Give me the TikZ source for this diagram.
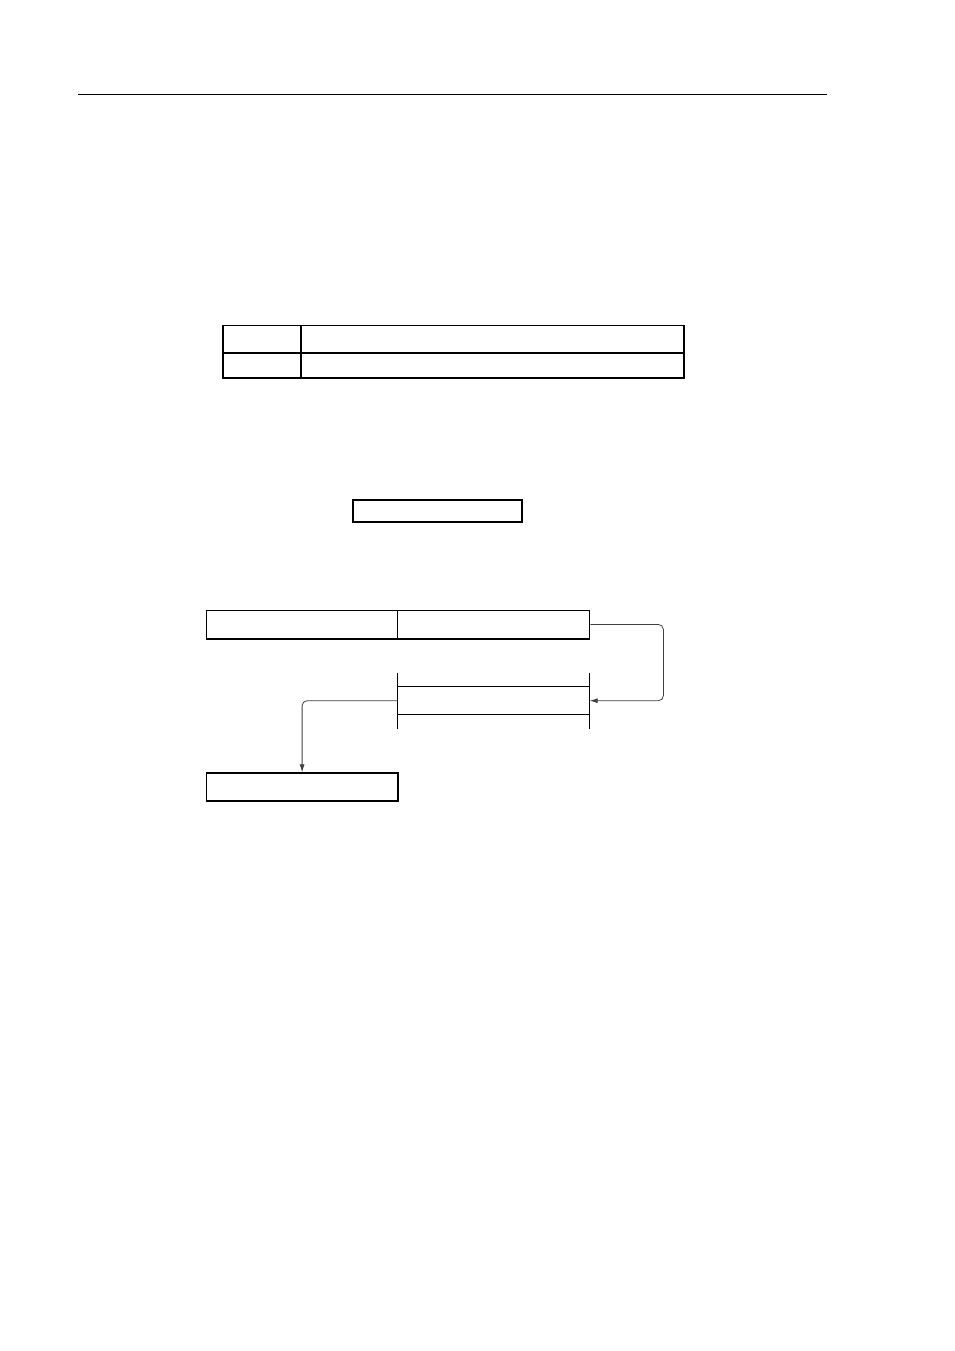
\documentclass[tikz,border=0pt]{standalone}
\usetikzlibrary{arrows.meta}
\begin{document}
\begin{tikzpicture}[x=1pt,y=-1pt,
  cell/.style={draw, line width=1.8pt, inner sep=0pt, anchor=north west},
  bx/.style={draw, line width=1.2pt, inner sep=0pt, anchor=north west},
  ghost/.style={inner sep=0pt, anchor=north west},
  conn/.style={draw=black!75, line width=0.8pt, rounded corners=5pt, -{Latex[length=8pt,width=5pt]}},
  bar/.style={line width=1.1pt}]
\useasboundingbox (0,0) rectangle (954,1351);
% header rule
\coordinate (hl) at (78,95);
\coordinate (hr) at (827,95);
\draw[line width=1pt] (hl) -- (hr);
% table
\node[cell, minimum width=78pt, minimum height=27.5pt] (c11) at (222,324.5) {};
\node[cell, minimum width=383pt, minimum height=27.5pt] (c12) at (300,324.5) {};
\node[cell, minimum width=78pt, minimum height=25pt] (c21) at (222,352) {};
\node[cell, minimum width=383pt, minimum height=25pt] (c22) at (300,352) {};
% small box
\node[cell, line width=1.6pt, minimum width=169pt, minimum height=22.3pt] (s) at (352,499) {};
% top boxes
\node[bx, minimum width=191.5pt, minimum height=27.7pt] (a) at (205.7,610) {};
\node[bx, minimum width=192pt, minimum height=27.7pt] (b) at (397.2,610) {};
\draw[line width=1.8pt] (a.south west) -- (b.south east);
% middle structure
\node[ghost, minimum width=192pt, minimum height=27.6pt] (m) at (397.3,686.7) {};
\draw[bar] (m.north west) -- (m.north east);
\draw[bar] (m.south west) -- (m.south east);
\draw[bar] ([yshift=13.7pt]m.north west) -- ([yshift=-14.7pt]m.south west);
\draw[bar] ([yshift=13.7pt]m.north east) -- ([yshift=-14.7pt]m.south east);
% bottom box
\node[bx, minimum width=191.6pt, minimum height=27.7pt] (c) at (205.7,772.3) {};
\draw[line width=1.8pt] (c.south west) -- (c.south east);
% connectors
\draw[conn] (b.east) -- ++(73,0) |- (m.east);
\draw[conn] (m.west) -| (c.north);
\end{tikzpicture}
\end{document}
